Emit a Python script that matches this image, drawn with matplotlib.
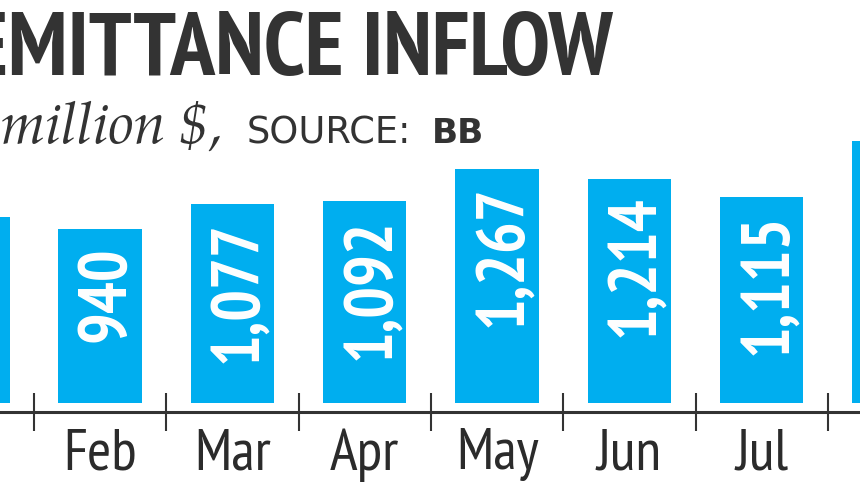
import matplotlib
matplotlib.use("Agg")
import matplotlib.pyplot as plt
import numpy as np

# ---- data ----
months = ["Jan", "Feb", "Mar", "Apr", "May", "Jun", "Jul", "Aug"]
values = [1009, 940, 1077, 1092, 1267, 1214, 1115, 1418]

title_text = "REMITTANCE INFLOW"
unit_text = "In million $,"
source_label = "SOURCE:"
source_name = "BB"

BAR = "#00AEEF"
INK = "#333333"
COND = "PT Sans Narrow"

W, H, DPI = 860, 484, 100
fig = plt.figure(figsize=(W / DPI, H / DPI), dpi=DPI)
fig.patch.set_facecolor("white")

# axes: bottom spine at y=411.7px from top, spans full width
axis_px = 411.7
ax = fig.add_axes([0, (H - axis_px) / H, 1, axis_px / H])
ax.set_facecolor("none")
scale = 0.1843  # px per unit
gap_px = 9.0

x = np.arange(len(months))
ax.bar(x, values, width=0.63, color=BAR, zorder=2)

for s in ("top", "left", "right"):
    ax.spines[s].set_visible(False)
ax.spines["bottom"].set_linewidth(2.2)
ax.spines["bottom"].set_color(INK)
ax.spines["bottom"].set_zorder(3)
ax.set_yticks([])

ax.set_xticks(x)
ax.set_xticklabels(months, fontsize=42, family=COND, color="#2b2b2b")
ax.tick_params(axis="x", which="major", length=0, pad=12)
ax.set_xticks(np.arange(-0.5, len(months) + 0.5, 1.0), minor=True)
ax.tick_params(axis="x", which="minor", direction="inout", length=26.9,
               width=1.5, color=INK)

ax.set_ylim(-gap_px / scale, (axis_px - gap_px) / scale)
ax.set_xlim(0.243, 6.743)

for xi, v in zip(x, values):
    ax.annotate(f"{v:,}", xy=(xi, v), xytext=(0, -12), textcoords="offset points",
                rotation=90, rotation_mode="anchor", ha="right", va="center_baseline",
                color="white", fontsize=48, fontweight="bold", family=COND, zorder=4)

# title and subtitle
fig.text(613 / W, (H - 75) / H, title_text, ha="right", va="baseline",
         fontsize=64.8, fontweight="bold", family=COND, color=INK)
fig.text(222 / W, (H - 143) / H, unit_text, ha="right", va="baseline",
         fontsize=41, style="italic", family=["TeX Gyre Pagella", "DejaVu Serif"], color=INK)
fig.text(247 / W, (H - 143) / H, source_label, ha="left", va="baseline",
         fontsize=26.5, family="DejaVu Sans", color=INK)
fig.text(432 / W, (H - 143) / H, source_name, ha="left", va="baseline",
         fontsize=24.7, fontweight="bold", family="DejaVu Sans", color=INK)

fig.savefig("out.png", dpi=DPI, facecolor="white")
